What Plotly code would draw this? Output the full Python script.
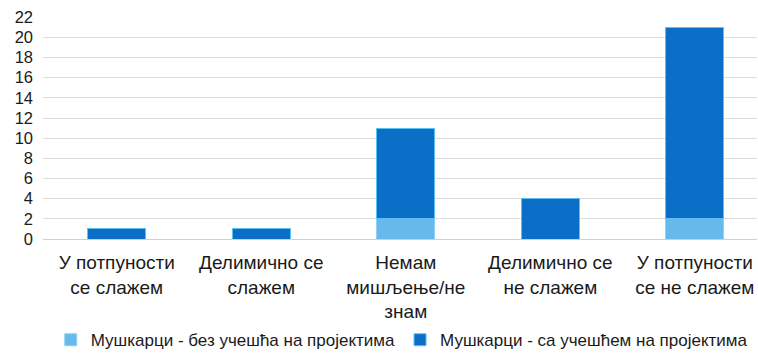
import plotly.graph_objects as go

categories = [
    "У потпуности<br>се слажем",
    "Делимично се<br>слажем",
    "Немам<br>мишљење/не<br>знам",
    "Делимично се<br>не слажем",
    "У потпуности<br>се не слажем",
]
series_names = [
    "Мушкарци - без учешћа на пројектима",
    "Мушкарци - са учешћем на пројектима",
]
without_projects = [0, 0, 2, 0, 2]
with_projects = [1, 1, 9, 4, 19]
y_ticks = list(range(0, 23, 2))

light = "#67b9ec"
dark = "#0b6fc8"

fig = go.Figure()
fig.add_trace(go.Bar(
    x=categories, y=without_projects, name=series_names[0],
    marker=dict(color=light, line=dict(color="#8fd3f7", width=1)),
))
fig.add_trace(go.Bar(
    x=categories, y=with_projects, name=series_names[1],
    marker=dict(color=dark, line=dict(color="#5cc0f2", width=1)),
))

fig.update_layout(
    barmode="stack",
    bargap=0.6,
    width=758, height=356,
    margin=dict(l=43, r=1, t=17, b=117, autoexpand=False),
    plot_bgcolor="white", paper_bgcolor="white",
    font=dict(family="Liberation Sans, Arial, sans-serif", color="#1a1a1a"),
    showlegend=True,
    legend=dict(
        orientation="h", xref="container", yref="container",
        x=0.53, xanchor="center", y=0.095, yanchor="top",
        font=dict(size=17), itemwidth=30, tracegroupgap=0,
        traceorder="normal",
    ),
    xaxis=dict(
        range=[-0.51, 4.43], showgrid=False, showline=False, ticks="",
        tickfont=dict(size=19), ticklabelstandoff=10, automargin=False,
        ticklabeloverflow="allow",
    ),
    yaxis=dict(
        range=[0, 22.02], tickvals=y_ticks, showgrid=True, gridcolor="#dcdcdc",
        gridwidth=1, zeroline=True, zerolinecolor="#d0d0d0", zerolinewidth=1,
        showline=False, ticks="", tickfont=dict(size=16.5), ticklabelstandoff=9,
        automargin=False, ticklabeloverflow="allow",
    ),
)

fig.write_html(
    "out.html",
    config={"displayModeBar": False},
    post_script="document.body.style.margin='0';"
                "document.documentElement.style.overflow='hidden';",
)
